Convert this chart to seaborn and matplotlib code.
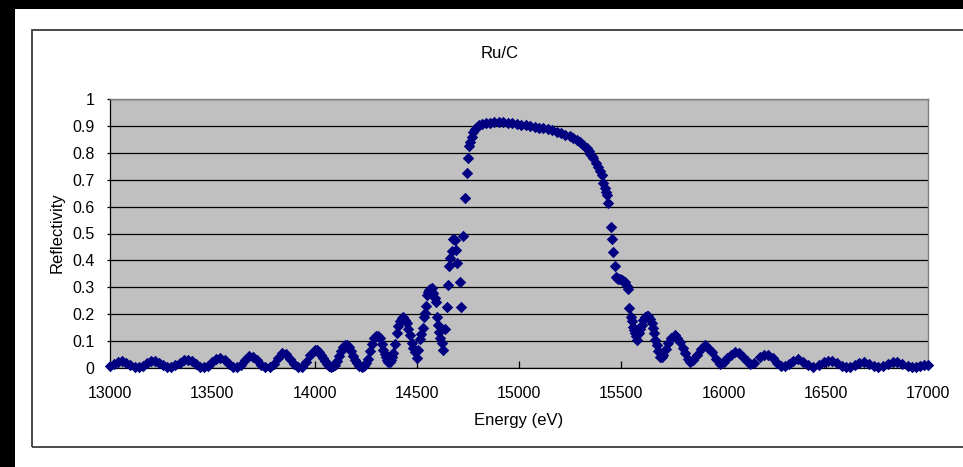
import matplotlib
matplotlib.use("Agg")
import matplotlib.pyplot as plt
from matplotlib.patches import Rectangle
import pandas as pd
import seaborn as sns

# Reflectivity scan of a Ru/C multilayer, in segments (energy in eV)
energy_tail_low = [
    13000, 13020, 13040, 13060, 13080, 13100, 13120, 13140, 13160, 13180,
    13200, 13220, 13240, 13260, 13280, 13300, 13320, 13340, 13360, 13380,
    13400, 13420, 13440, 13460, 13480, 13500, 13520, 13540, 13560, 13580,
    13600, 13620, 13640, 13660, 13680, 13700, 13720, 13740, 13760, 13780,
    13800, 13820, 13840, 13860, 13880, 13900, 13920, 13940, 13960, 13980,
    14000, 14010, 14020, 14030, 14040, 14050, 14060, 14070, 14080, 14090,
    14100, 14110, 14120, 14130, 14140, 14150, 14160, 14170, 14180, 14190,
    14200, 14210, 14220, 14230, 14240, 14250, 14260, 14270, 14280, 14290,
    14300, 14310,
]
refl_tail_low = [
    0.008, 0.016, 0.024, 0.025, 0.020, 0.012, 0.004, 0.002, 0.008, 0.018,
    0.026, 0.027, 0.020, 0.010, 0.003, 0.003, 0.010, 0.020, 0.028, 0.031,
    0.025, 0.014, 0.005, 0.002, 0.008, 0.022, 0.034, 0.037, 0.030, 0.016,
    0.005, 0.002, 0.010, 0.030, 0.045, 0.042, 0.028, 0.012, 0.003, 0.003,
    0.016, 0.038, 0.055, 0.052, 0.035, 0.015, 0.003, 0.004, 0.022, 0.050,
    0.067, 0.066, 0.060, 0.050, 0.038, 0.025, 0.014, 0.007, 0.004, 0.006,
    0.012, 0.026, 0.045, 0.063, 0.078, 0.085, 0.086, 0.078, 0.062, 0.046,
    0.030, 0.017, 0.008, 0.005, 0.008, 0.018, 0.035, 0.062, 0.090, 0.110,
    0.118, 0.118,
]

energy_rise = [
    14320, 14328, 14337, 14344, 14350, 14356, 14361, 14368, 14374, 14380,
    14386, 14394, 14402, 14410, 14418, 14426, 14434, 14443, 14451, 14459,
    14467, 14475, 14483, 14491, 14499, 14507, 14516, 14522, 14529, 14535,
    14540, 14545, 14548, 14555, 14561, 14567, 14573, 14581, 14588, 14594,
    14600, 14605, 14610, 14616, 14622, 14630, 14638, 14646, 14654, 14659,
    14665, 14671, 14679, 14685, 14692, 14699, 14711, 14716, 14727, 14736,
]
refl_rise = [
    0.112, 0.090, 0.067, 0.052, 0.040, 0.030, 0.024, 0.024, 0.030, 0.040,
    0.055, 0.090, 0.129, 0.155, 0.175, 0.186, 0.188, 0.180, 0.166, 0.145,
    0.123, 0.092, 0.073, 0.061, 0.036, 0.067, 0.107, 0.125, 0.147, 0.191,
    0.205, 0.230, 0.271, 0.283, 0.290, 0.293, 0.296, 0.280, 0.262, 0.247,
    0.191, 0.160, 0.135, 0.110, 0.092, 0.067, 0.144, 0.226, 0.309, 0.379,
    0.410, 0.436, 0.478, 0.475, 0.440, 0.389, 0.321, 0.228, 0.491, 0.633,
]

energy_plateau = [
    14748, 14751, 14757, 14762, 14768, 14775, 14784, 14793, 14805, 14817,
    14838, 14858, 14880, 14900, 14923, 14945, 14967, 14989, 15010, 15032,
    15054, 15076, 15098, 15119, 15140, 15162, 15184, 15205, 15227, 15249,
    15265, 15282, 15298, 15315, 15331, 15340, 15348, 15356, 15363, 15375,
    15388, 15396, 15404, 15412, 15421, 15425, 15432, 15437,
]
refl_plateau = [
    0.726, 0.780, 0.825, 0.841, 0.860, 0.878, 0.890, 0.897, 0.903, 0.907,
    0.910, 0.912, 0.913, 0.913, 0.913, 0.911, 0.909, 0.907, 0.905, 0.902,
    0.900, 0.897, 0.894, 0.891, 0.887, 0.883, 0.879, 0.874, 0.868, 0.862,
    0.856, 0.849, 0.841, 0.830, 0.817, 0.806, 0.795, 0.787, 0.779, 0.763,
    0.748, 0.733, 0.717, 0.687, 0.668, 0.656, 0.643, 0.615,
]

energy_fall = [
    15448, 15453, 15461, 15469, 15474, 15480, 15486, 15494, 15502, 15510,
    15518, 15526, 15534, 15539, 15546, 15551, 15556, 15562, 15567, 15573,
    15579, 15588, 15594, 15600, 15608, 15616, 15624, 15632, 15640, 15649,
    15655, 15660, 15667, 15673, 15681, 15689, 15697, 15705,
]
refl_fall = [
    0.525, 0.480, 0.430, 0.379, 0.337, 0.333, 0.330, 0.332, 0.327, 0.325,
    0.321, 0.305, 0.292, 0.222, 0.191, 0.175, 0.154, 0.140, 0.131, 0.118,
    0.104, 0.129, 0.145, 0.160, 0.180, 0.191, 0.195, 0.193, 0.183, 0.166,
    0.148, 0.129, 0.105, 0.086, 0.062, 0.042, 0.040, 0.048,
]

energy_tail_high = [
    15717, 15730, 15745, 15763, 15775, 15787, 15800, 15812, 15824, 15836,
    15852, 15869, 15890, 15910, 15926, 15942, 15962, 15983, 16000, 16015,
    16035, 16056, 16077, 16097, 16115, 16130, 16150, 16178, 16200, 16219,
    16240, 16260, 16280, 16300, 16320, 16340, 16366, 16390, 16415, 16440,
    16465, 16490, 16510, 16530, 16555, 16580, 16600, 16620, 16645, 16665,
    16685, 16710, 16735, 16757, 16780, 16805, 16830, 16850, 16875, 16900,
    16920, 16940, 16960, 16980, 17000,
]
refl_tail_high = [
    0.070, 0.092, 0.112, 0.123, 0.112, 0.098, 0.076, 0.055, 0.035, 0.023,
    0.030, 0.048, 0.072, 0.086, 0.075, 0.061, 0.035, 0.015, 0.022, 0.036,
    0.050, 0.061, 0.055, 0.042, 0.025, 0.015, 0.020, 0.040, 0.048, 0.050,
    0.036, 0.020, 0.008, 0.006, 0.014, 0.025, 0.032, 0.024, 0.010, 0.005,
    0.012, 0.022, 0.027, 0.027, 0.018, 0.008, 0.003, 0.002, 0.010, 0.020,
    0.023, 0.016, 0.006, 0.002, 0.006, 0.016, 0.022, 0.023, 0.016, 0.007,
    0.002, 0.003, 0.008, 0.011, 0.012,
]

x_ticks = [13000, 13500, 14000, 14500, 15000, 15500, 16000, 16500, 17000]
y_ticks = [0, 0.1, 0.2, 0.3, 0.4, 0.5, 0.6, 0.7, 0.8, 0.9, 1.0]
y_tick_labels = ["0", "0.1", "0.2", "0.3", "0.4", "0.5", "0.6", "0.7", "0.8", "0.9", "1"]

title_text = "Ru/C"
x_label = "Energy (eV)"
y_label = "Reflectivity"

scan = pd.DataFrame({
    "energy": energy_tail_low + energy_rise + energy_plateau + energy_fall + energy_tail_high,
    "reflectivity": refl_tail_low + refl_rise + refl_plateau + refl_fall + refl_tail_high,
})

W, H, DPI = 963, 467, 100
FONT = "Liberation Sans"
plt.rcParams["font.family"] = [FONT, "DejaVu Sans"]

fig = plt.figure(figsize=(W / DPI, H / DPI), dpi=DPI, facecolor="white")


def fx(px):
    return px / W


def fy(py):
    return 1 - py / H


# dark frame strips along the top and left edges
fig.add_artist(Rectangle((0, fy(9)), 1, 9 / H, transform=fig.transFigure,
                         facecolor="black", edgecolor="none", zorder=0))
fig.add_artist(Rectangle((0, 0), fx(15), 1, transform=fig.transFigure,
                         facecolor="black", edgecolor="none", zorder=0))
# chart-area border
fig.add_artist(Rectangle((fx(32), fy(447)), fx(990 - 32), (447 - 30) / H,
                         transform=fig.transFigure, facecolor="none",
                         edgecolor="#3c3c3c", linewidth=1.3, zorder=1))

ax = fig.add_axes([fx(110), fy(368), fx(928 - 110), (368 - 99) / H])
ax.set_facecolor("#C0C0C0")

sns.scatterplot(data=scan, x="energy", y="reflectivity", ax=ax,
                marker="D", color="#000080", s=34, linewidth=0,
                legend=False, clip_on=False, zorder=3)

ax.set_xlim(13000, 17000)
ax.set_ylim(0, 1)
ax.set_xticks(x_ticks)
ax.set_xticklabels([str(t) for t in x_ticks])
ax.set_yticks(y_ticks)
ax.set_yticklabels(y_tick_labels)
ax.set_xlabel("")
ax.set_ylabel("")

ax.yaxis.grid(True, color="black", linewidth=0.9)
ax.xaxis.grid(False)
ax.set_axisbelow(True)

for side in ("top", "right"):
    ax.spines[side].set_color("#808080")
    ax.spines[side].set_linewidth(1.0)
for side in ("left", "bottom"):
    ax.spines[side].set_color("black")
    ax.spines[side].set_linewidth(0.9)

ax.tick_params(axis="x", direction="in", length=5, width=0.9, pad=13,
               labelsize=11.5, colors="black")
ax.tick_params(axis="y", direction="out", length=2, width=0.9, pad=9,
               labelsize=11.5, colors="black")

fig.text(fx(500), fy(53), title_text, ha="center", va="center", fontsize=12, color="black")
fig.text(fx(519), fy(421), x_label, ha="center", va="center", fontsize=12, color="black")
fig.text(fx(57), fy(233), y_label, ha="center", va="center", rotation=90,
         fontsize=12, color="black")

fig.savefig("out.png", dpi=DPI, facecolor="white")
